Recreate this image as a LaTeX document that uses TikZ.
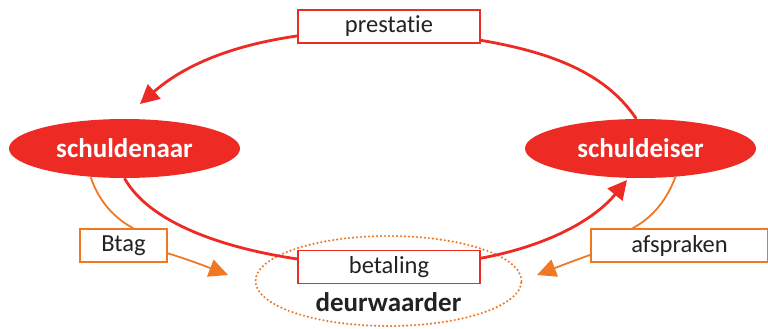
\documentclass[tikz,border=0pt]{standalone}
\usepackage{fontspec}
\setmainfont{Carlito}[Ligatures=NoCommon]
\usetikzlibrary{arrows.meta,shapes.geometric}
\definecolor{rd}{HTML}{EE2A24}
\definecolor{og}{HTML}{F07822}
\definecolor{tx}{HTML}{222222}
\begin{document}
\begin{tikzpicture}[x=1pt,y=-1pt,
  party/.style={ellipse,fill=rd,draw=none,minimum width=231pt,minimum height=59pt,inner sep=0pt,text=white,font=\fontsize{27}{30}\selectfont\bfseries},
  redbox/.style={draw=rd,line width=1.3pt,fill=white,minimum width=182pt,minimum height=33pt,inner sep=0pt,text=tx,font=\fontsize{24.5}{28}\selectfont},
  orbox/.style={draw=og,line width=1.3pt,fill=white,minimum height=33pt,inner sep=0pt,text=tx,font=\fontsize{24.5}{28}\selectfont},
  redline/.style={draw=rd,line width=2.8pt},
  orline/.style={draw=og,line width=1.8pt},
  redtip/.style={-{Triangle[length=19pt,width=19pt]}},
  ortip/.style={-{Triangle[length=19pt,width=18pt]}},
  dotring/.style={draw=og,line width=2.4pt,line cap=round,dash pattern=on 0pt off 4pt}
]
\useasboundingbox (0,0) rectangle (768,329);
% nodes
\node[party] (sn) at (124.5,148.5) {schuldenaar};
\node[party] (se) at (640.5,148.5) {schuldeiser};
\node[dotring,ellipse,minimum width=266pt,minimum height=90pt] (dw) at (388.5,281) {};
\node[text=tx,font=\fontsize{27}{30}\selectfont\bfseries] (dwt) at (388.5,302) {deurwaarder};
\coordinate (toptip) at (140,104);
\coordinate (bottip) at (627,180);
\coordinate (btagtip) at (228,275);
\coordinate (afstip) at (537,275);
% connectors
\draw[redline] (se.98) .. controls (600,65) and (530,40) .. (389,30);
\draw[redline,redtip] (389,30) .. controls (260,30) and (190,60) .. (toptip);
\draw[redline] (sn.-90) .. controls (150,225) and (240,262) .. (389,267);
\draw[redline,redtip] (389,267) .. controls (520,265) and (590,225) .. (bottip);
\node[redbox] (prest) at (389,26.5) {prestatie};
\node[redbox] (bet) at (389,267) {betaling};
\node[orbox,minimum width=87pt] (btag) at (123.5,245.5) {Btag};
\node[orbox,minimum width=177pt] (afs) at (679.5,245.5) {afspraken};
\draw[orline] (sn.-140.7) .. controls (100,205) and (118,220) .. (btag.60);
\draw[orline,ortip] (btag.-10) .. controls (190,260) and (210,268) .. (btagtip);
\draw[orline] (se.-39.3) .. controls (665,205) and (648,220) .. (afs.160.5);
\draw[orline,ortip] (afs.-174.5) .. controls (570,262) and (555,268) .. (afstip);
\end{tikzpicture}
\end{document}
